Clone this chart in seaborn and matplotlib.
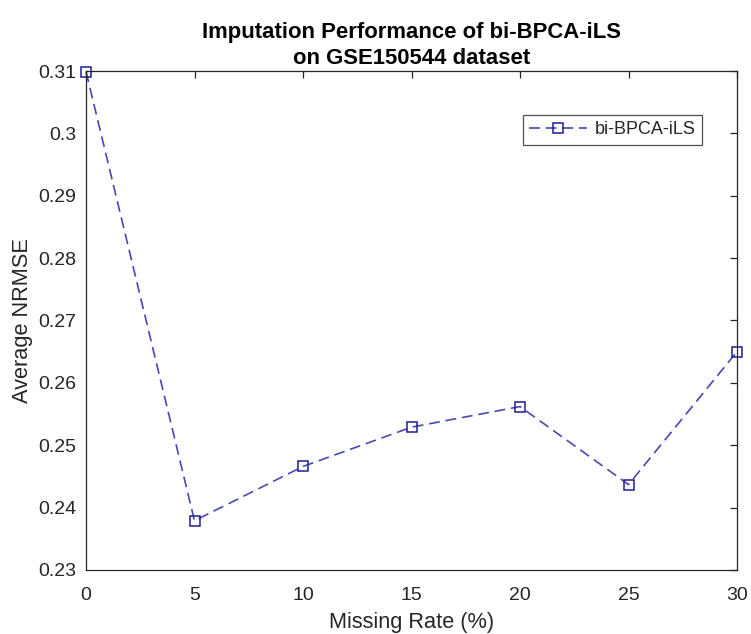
import matplotlib
matplotlib.use("Agg")
import matplotlib.pyplot as plt
import seaborn as sns
import pandas as pd

# Missing rate (%) and the average NRMSE obtained at each rate
missing_rate = [0, 5, 10, 15, 20, 25, 30]
avg_nrmse = [0.3099, 0.2379, 0.2466, 0.2529, 0.2562, 0.2437, 0.2650]
series_name = "bi-BPCA-iLS"

x_ticks = [0, 5, 10, 15, 20, 25, 30]
y_ticks = [0.23, 0.24, 0.25, 0.26, 0.27, 0.28, 0.29, 0.30, 0.31]
y_tick_labels = ["0.23", "0.24", "0.25", "0.26", "0.27", "0.28", "0.29", "0.3", "0.31"]

title_text = "Imputation Performance of bi-BPCA-iLS\non GSE150544 dataset"
x_label = "Missing Rate (%)"
y_label = "Average NRMSE"

df = pd.DataFrame({"rate": missing_rate, "nrmse": avg_nrmse})

sns.set_style("white")
plt.rcParams["font.family"] = ["Liberation Sans", "DejaVu Sans"]

ink = "#262626"
line_col = "#4848b4"
mark_col = "#1e1e96"

fig = plt.figure(figsize=(7.51, 6.34), dpi=100)
ax = fig.add_axes([86 / 751, 1 - 570 / 634, 651 / 751, 499 / 634])

sns.lineplot(data=df, x="rate", y="nrmse", ax=ax, label=series_name,
             color=line_col, linewidth=1.2, linestyle=(0, (6.5, 3.5)),
             marker="s", markersize=7.5, markerfacecolor="none",
             markeredgecolor=mark_col, markeredgewidth=1.1)
for ln in ax.lines:
    ln.set_markerfacecolor("none")
    ln.set_markeredgecolor(mark_col)
    ln.set_clip_on(False)

ax.set_xlim(0, 30)
ax.set_ylim(0.23, 0.31)
ax.set_xticks(x_ticks)
ax.set_xticklabels([str(t) for t in x_ticks])
ax.set_yticks(y_ticks)
ax.set_yticklabels(y_tick_labels)

for sp in ax.spines.values():
    sp.set_visible(True)
    sp.set_color(ink)
    sp.set_linewidth(0.9)

ax.tick_params(axis="both", direction="in", top=True, right=True,
               length=5, width=0.9, color=ink, labelcolor=ink, labelsize=14)
ax.tick_params(axis="x", pad=12)
ax.tick_params(axis="y", pad=7)

ax.set_xlabel(x_label, fontsize=15.7, color=ink, labelpad=6)
ax.set_ylabel(y_label, fontsize=15.7, color=ink, labelpad=4)
ax.set_title(title_text, fontsize=15.9, fontweight="bold", color="black",
             pad=5, linespacing=1.33)

leg = ax.legend(loc="upper right", bbox_to_anchor=((702 - 86) / 651, (570 - 115) / 499),
                borderaxespad=0, fontsize=13, frameon=True, fancybox=False,
                handlelength=3.2, handletextpad=0.45, borderpad=0.35)
leg.get_frame().set_edgecolor(ink)
leg.get_frame().set_linewidth(0.9)
for t in leg.get_texts():
    t.set_color(ink)

fig.savefig("out.png", dpi=100, facecolor="white")
